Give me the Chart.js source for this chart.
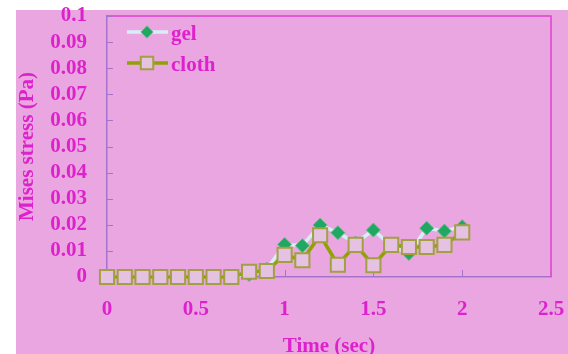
<!DOCTYPE html>
<html>
<head>
<meta charset="utf-8">
<script src="https://cdn.jsdelivr.net/npm/chart.js@4/dist/chart.umd.min.js"></script>
<style>
  html, body { margin: 0; padding: 0; background: #ffffff; }
  #wrap { width: 568px; height: 354px; position: relative; }
</style>
</head>
<body>
<div id="wrap"><canvas id="c" width="568" height="354"></canvas></div>
<script>
// Sample times (s)
const times = [0, 0.1, 0.2, 0.3, 0.4, 0.5, 0.6, 0.7, 0.8, 0.9, 1.0,
               1.1, 1.2, 1.3, 1.4, 1.5, 1.6, 1.7, 1.8, 1.9, 2.0];
// Mises stress (Pa) for each material
const gelStress = [0, 0, 0, 0, 0, 0, 0, 0, 0.001, 0.003, 0.0125,
                   0.012, 0.0199, 0.017, 0.013, 0.018, 0.012, 0.009, 0.0187, 0.0176, 0.0193];
const clothStress = [0, 0, 0, 0, 0, 0, 0, 0, 0.002, 0.0023, 0.0085,
                     0.0064, 0.016, 0.0047, 0.0123, 0.0045, 0.0123, 0.0115, 0.0115, 0.0123, 0.0171];
const seriesNames = ['gel', 'cloth'];
const xTickValues = [0, 0.5, 1, 1.5, 2, 2.5];

const FONT = 'Liberation Serif';
const FS = 21;
const TEXT = '#dd22cc';
const AXIS = '#a474cc';
const FRAME = '#e040d0';
const PANEL = '#eaa6e0';

const pts = (ys) => times.map((t, i) => ({ x: t, y: ys[i] }));

const panelBg = {
  id: 'panelBg',
  beforeDraw(chart) {
    const { ctx, width, height } = chart;
    ctx.save();
    ctx.fillStyle = '#ffffff';
    ctx.fillRect(0, 0, width, height);
    ctx.fillStyle = PANEL;
    ctx.fillRect(16, 10, width - 16, height - 10);
    ctx.restore();
  }
};

// Top/right frame and inward tick marks
const frame = {
  id: 'frame',
  beforeDatasetsDraw(chart) {
    const { ctx, chartArea: a, scales } = chart;
    ctx.save();
    ctx.strokeStyle = FRAME;
    ctx.lineWidth = 1.5;
    ctx.beginPath();
    ctx.moveTo(a.left, a.top);
    ctx.lineTo(a.right, a.top);
    ctx.lineTo(a.right, a.bottom);
    ctx.stroke();
    ctx.strokeStyle = AXIS;
    ctx.lineWidth = 1;
    ctx.beginPath();
    scales.y.ticks.forEach(t => {
      const y = Math.round(scales.y.getPixelForValue(t.value)) + 0.5;
      ctx.moveTo(a.left, y);
      ctx.lineTo(a.left + 6, y);
    });
    scales.x.ticks.forEach(t => {
      const x = Math.round(scales.x.getPixelForValue(t.value)) + 0.5;
      ctx.moveTo(x, a.bottom);
      ctx.lineTo(x, a.bottom - 7);
    });
    ctx.stroke();
    ctx.restore();
  }
};

// Legend: line + marker + name, styled from each dataset
const lineLegend = {
  id: 'lineLegend',
  afterDatasetsDraw(chart) {
    const { ctx, chartArea: a } = chart;
    ctx.save();
    chart.data.datasets.forEach((ds, i) => {
      const y = a.top + 16 + i * 31;
      const x0 = a.left + 20, x1 = a.left + 61, xm = a.left + 40;
      ctx.strokeStyle = ds.borderColor;
      ctx.lineWidth = ds.borderWidth;
      ctx.beginPath();
      ctx.moveTo(x0, y);
      ctx.lineTo(x1, y);
      ctx.stroke();
      ctx.fillStyle = ds.pointBackgroundColor;
      ctx.strokeStyle = ds.pointBorderColor;
      ctx.lineWidth = ds.pointBorderWidth;
      Chart.helpers.drawPoint(ctx, {
        pointStyle: ds.pointStyle,
        radius: ds.pointRadius * 0.88,
        borderWidth: ds.pointBorderWidth
      }, xm, y);
      ctx.fillStyle = TEXT;
      ctx.font = 'bold ' + FS + 'px "' + FONT + '"';
      ctx.textBaseline = 'alphabetic';
      ctx.textAlign = 'left';
      ctx.fillText(ds.label, a.left + 64, y + 7.5);
    });
    ctx.restore();
  }
};

new Chart(document.getElementById('c'), {
  type: 'line',
  data: {
    datasets: [
      {
        label: seriesNames[0],
        data: pts(gelStress),
        borderColor: '#d8eef6',
        borderWidth: 3.5,
        pointStyle: 'rectRot',
        pointRadius: 7,
        pointBackgroundColor: '#1fa862',
        pointBorderColor: '#6fb68a',
        pointBorderWidth: 1,
        tension: 0,
        clip: false,
        order: 2
      },
      {
        label: seriesNames[1],
        data: pts(clothStress),
        borderColor: '#8fa200',
        borderWidth: 3.5,
        pointStyle: 'rect',
        pointRadius: 10,
        pointBackgroundColor: '#e6c2e2',
        pointBorderColor: '#a2a040',
        pointBorderWidth: 2,
        tension: 0,
        clip: false,
        order: 1
      }
    ]
  },
  options: {
    responsive: false,
    animation: false,
    events: [],
    layout: { padding: 0 },
    plugins: { legend: { display: false }, tooltip: { enabled: false } },
    scales: {
      x: {
        type: 'linear',
        min: 0,
        max: 2.5,
        afterFit(s) { s.height = 77; s.paddingLeft = 0; s.paddingRight = 17; },
        afterBuildTicks(s) { s.ticks = xTickValues.map(v => ({ value: v })); },
        grid: { display: false },
        border: { display: true, color: AXIS, width: 1.5 },
        ticks: {
          color: TEXT,
          padding: 12,
          maxRotation: 0,
          autoSkip: false,
          font: { family: FONT, size: FS, weight: 'bold' },
          callback: v => String(+v.toFixed(1))
        },
        title: {
          display: true,
          text: 'Time (sec)',
          color: TEXT,
          padding: { top: 0, bottom: 0 },
          font: { family: FONT, size: FS, weight: 'bold', lineHeight: 0.7 }
        }
      },
      y: {
        min: 0,
        max: 0.1,
        afterFit(s) { s.width = 107; s.paddingTop = 16; s.paddingBottom = 0; },
        grid: { display: false },
        border: { display: true, color: AXIS, width: 1.5 },
        ticks: {
          stepSize: 0.01,
          autoSkip: false,
          color: TEXT,
          padding: 12,
          font: { family: FONT, size: FS, weight: 'bold' },
          callback: v => String(+v.toFixed(2))
        },
        title: {
          display: true,
          text: 'Mises stress (Pa)',
          color: TEXT,
          padding: { top: 17.5, bottom: 0 },
          font: { family: FONT, size: FS, weight: 'bold', lineHeight: 1 }
        }
      }
    }
  },
  plugins: [panelBg, frame, lineLegend]
});
</script>
</body>
</html>
